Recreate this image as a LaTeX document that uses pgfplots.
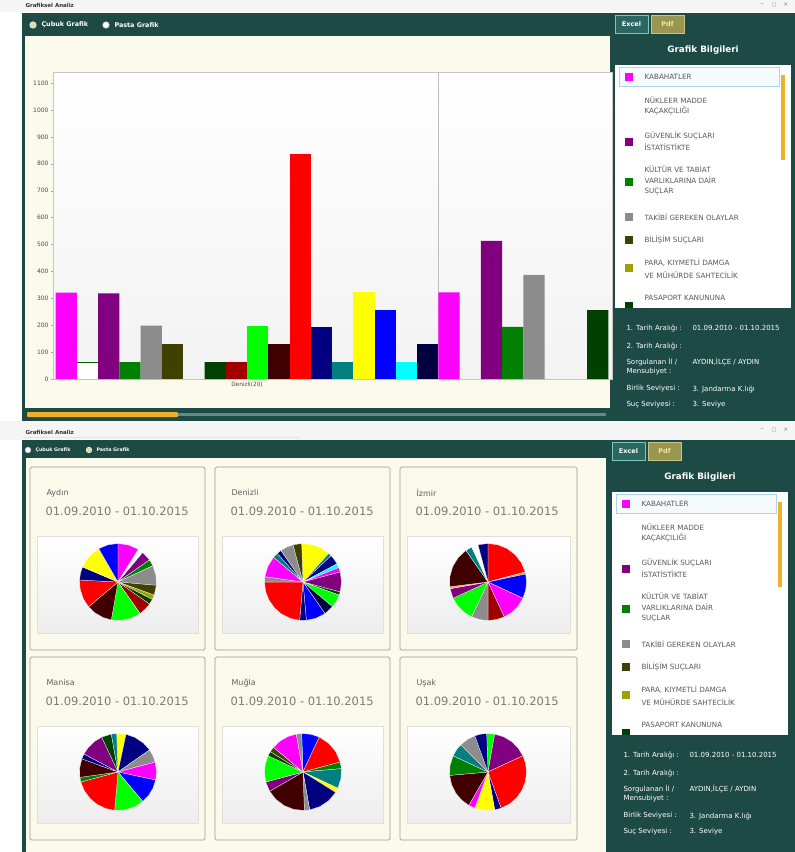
\documentclass[border=0pt]{standalone}
\usepackage{pgfplots}
\pgfplotsset{compat=1.18}
\usepgfplotslibrary{polar}
\usepackage{fontspec}
\setmainfont{DejaVu Sans}
\newcommand{\fs}[1]{\fontsize{#1}{#1}\selectfont}
\definecolor{teal1}{HTML}{1E4A46}
\definecolor{cream}{HTML}{FCFAEB}
\definecolor{btnteal}{HTML}{2B6660}
\definecolor{btnedge}{HTML}{7EC5BF}
\definecolor{pdfbtn}{HTML}{999650}
\definecolor{pdfedge}{HTML}{C9C58A}
\definecolor{pdftext}{HTML}{F0E6A0}
\definecolor{lblue}{HTML}{A9D5EE}
\definecolor{orange1}{HTML}{F0B02A}
\definecolor{lgtext}{HTML}{5A5A5A}
\definecolor{cardfill}{HTML}{FBF9EA}
\definecolor{cardedge}{HTML}{9D9C92}
\definecolor{nametext}{HTML}{606060}
\definecolor{datetext}{HTML}{7B7B7B}
\definecolor{tracktl}{HTML}{5E8C88}
\definecolor{pmag}{HTML}{FF00FF}
\definecolor{ppur}{HTML}{800080}
\definecolor{pgrn}{HTML}{008000}
\definecolor{pgry}{HTML}{8C8C8C}
\definecolor{pdol}{HTML}{404000}
\definecolor{poly}{HTML}{A0A000}
\definecolor{pdgr}{HTML}{004000}
\definecolor{pdrd}{HTML}{A00000}
\definecolor{plim}{HTML}{00FF00}
\definecolor{pmar}{HTML}{400000}
\definecolor{pred}{HTML}{FF0000}
\definecolor{pnav}{HTML}{000080}
\definecolor{ptea}{HTML}{008080}
\definecolor{pyel}{HTML}{FFFF00}
\definecolor{pblu}{HTML}{0000FF}
\definecolor{pcya}{HTML}{00FFFF}
\definecolor{pnbk}{HTML}{000040}
\definecolor{porg}{HTML}{FFA040}
\pgfplotsset{
  bb/.style={ybar, bar width=1, bar shift=0pt, fill=#1, draw=none},
  sl/.style={fill=#1, draw=white, line width=0.25pt},
  pie/.style={scale only axis, width=77pt, height=77pt, hide axis, ymin=0, ymax=1, clip=false, anchor=center},
}
\tikzset{lg/.style={anchor=west, font=\fs{7.2}, text=lgtext}, inf/.style={anchor=west, font=\fs{7}, text=white}}
\newcommand{\rpanel}{%
  \draw[fill=btnteal, draw=btnedge, line width=0.6pt] (615,15) rectangle (648,33);
  \node[font=\bfseries\fs{6.5}, text=white] at (631.5,24) {Excel};
  \draw[fill=pdfbtn, draw=pdfedge, line width=0.6pt] (651,15) rectangle (684,33);
  \node[font=\bfseries\fs{6.5}, text=pdftext] at (667.5,24) {Pdf};
  \node[font=\bfseries\fs{8.8}, text=white] at (703,50) {Grafik Bilgileri};
  \fill[white] (615,65) rectangle (791,308);
  \draw[lblue, fill=lblue!12] (619,67.5) rectangle (779,86);
  \fill[orange1] (781,75) rectangle (785,160);
  \fill[pmag] (625,73) rectangle (633,81);
  \node[lg] at (641,77) {KABAHATLER};
  \node[lg] at (641,100) {NÜKLEER MADDE};
  \node[lg] at (641,111) {KAÇAKÇILIĞI};
  \fill[ppur] (625,138) rectangle (633,146);
  \node[lg] at (641,136) {GÜVENLİK SUÇLARI};
  \node[lg] at (641,147) {İSTATİSTİKTE};
  \fill[pgrn] (625,178) rectangle (633,186);
  \node[lg] at (641,169) {KÜLTÜR VE TABİAT};
  \node[lg] at (641,180) {VARLIKLARINA DAİR};
  \node[lg] at (641,192) {SUÇLAR};
  \fill[pgry] (625,213) rectangle (633,221);
  \node[lg] at (641,217) {TAKİBİ GEREKEN OLAYLAR};
  \fill[pdol] (625,236) rectangle (633,244);
  \node[lg] at (641,240) {BİLİŞİM SUÇLARI};
  \fill[poly] (625,264) rectangle (633,272);
  \node[lg] at (641,263) {PARA, KIYMETLİ DAMGA};
  \node[lg] at (641,275) {VE MÜHÜRDE SAHTECİLİK};
  \fill[pdgr] (625,302) rectangle (633,308);
  \node[lg] at (641,298) {PASAPORT KANUNUNA};
  \node[inf] at (623,328) {1. Tarih Aralığı :};
  \node[inf] at (689,328) {01.09.2010 - 01.10.2015};
  \node[inf] at (623,346) {2. Tarih Aralığı :};
  \node[inf] at (623,362) {Sorgulanan İl /};
  \node[inf] at (623,372) {Mensubiyet :};
  \node[inf] at (689,362) {AYDIN,İLÇE / AYDIN};
  \node[inf] at (623,389) {Birlik Seviyesi :};
  \node[inf] at (689,389) {3. Jandarma K.lığı};
  \node[inf] at (623,405) {Suç Seviyesi :};
  \node[inf] at (689,405) {3. Seviye};
}
\newcommand{\card}[4]{%
  \draw[cardedge, fill=cardfill, rounded corners=1.5pt, line width=0.7pt] (#1,#2) rectangle ++(#4,183);
  \node[anchor=west, font=\fs{8}, text=nametext] at (#1+13,#2+26) {#3};
  \node[anchor=west, font=\fs{11.5}, text=datetext] at (#1+12,#2+44) {01.09.2010 - 01.10.2015};
  \draw[gray!25, top color=white, bottom color=gray!14] (#1+7,#2+69) rectangle (#1+#4-7,#2+166);
}
\begin{document}
\begin{tikzpicture}
\useasboundingbox (0pt,0pt) rectangle (795pt,-852pt);
\begin{scope}[x=1pt,y=-1pt]
  \fill[white] (0,0) rectangle (795,852);
  % top window
  \fill[gray!8] (0,0) rectangle (795,12);
  \node[anchor=west, font=\bfseries\fs{5.5}, text=gray!40!black] at (22,5) {Grafiksel Analiz};
  \node[font=\fs{6}, text=gray] at (762,5) {–};
  \node[font=\fs{5}, text=gray] at (774,5) {□};
  \node[font=\fs{6}, text=gray] at (786,5) {×};
  \fill[teal1] (22,13) rectangle (795,36);
  \fill[teal1] (610,13) rectangle (795,421);
  \fill[teal1] (22,13) rectangle (25,421);
  \fill[cream] (25,36) rectangle (610,408);
  \fill[teal1] (22,408) rectangle (612,421);
  \fill[tracktl] (28,413) rectangle (606,416);
  \fill[orange1, rounded corners=1pt] (27,412) rectangle (178,417);
  \draw[fill=pyel!40!gray!50, draw=white, line width=0.6pt] (33,25) circle (3.2);
  \node[anchor=west, font=\bfseries\fs{6.4}, text=white] at (38,25) {Çubuk Grafik};
  \draw[fill=white, draw=white!80!teal1, line width=0.6pt] (106,25) circle (3.2);
  \node[anchor=west, font=\bfseries\fs{6.4}, text=white] at (111,25) {Pasta Grafik};
  \rpanel
  % bottom window
  \fill[gray!8] (0,421) rectangle (795,440);
  \fill[red!15] (22,437) rectangle (300,438);
  \node[anchor=west, font=\bfseries\fs{5.5}, text=gray!40!black] at (22,432) {Grafiksel Analiz};
  \node[font=\fs{6}, text=gray] at (762,430) {–};
  \node[font=\fs{5}, text=gray] at (774,430) {□};
  \node[font=\fs{6}, text=gray] at (786,430) {×};
  \fill[teal1] (22,440) rectangle (795,458);
  \fill[teal1] (22,440) rectangle (26,852);
  \fill[teal1] (606,440) rectangle (795,852);
  \fill[cream] (26,458) rectangle (606,852);
  \draw[fill=white, draw=white!80!teal1, line width=0.5pt] (28,450) circle (2.8);
  \node[anchor=west, font=\bfseries\fs{4.8}, text=white] at (32,450) {Çubuk Grafik};
  \draw[fill=pyel!40!gray!50, draw=white, line width=0.5pt] (89,450) circle (2.8);
  \node[anchor=west, font=\bfseries\fs{4.8}, text=white] at (93,450) {Pasta Grafik};
  \begin{scope}[shift={(-3,427)}]
    \rpanel
  \end{scope}
  \card{30}{467}{Aydın}{175}
  \card{215}{467}{Denizli}{175}
  \card{400}{467}{İzmir}{177}
  \card{30}{657}{Manisa}{175}
  \card{215}{657}{Muğla}{175}
  \card{400}{657}{Uşak}{177}
\end{scope}

% bar chart
\begin{axis}[
  at={(53pt,-379pt)}, anchor=south west,
  scale only axis, width=559pt, height=307pt,
  xmin=-0.127, xmax=26.17, ymin=0, ymax=1141,
  axis line style={gray!45},
  axis background/.style={top color=white, bottom color=gray!10},
  ytick={0,100,...,1100},
  ytick pos=left, tick align=outside, major tick length=2pt,
  tick style={gray!70},
  yticklabel style={font=\fs{6}, text=gray!60!black, xshift=1pt},
  xtick={9}, xticklabels={Denizli(20)},
  xtick style={draw=none},
  xticklabel style={font=\fs{5.8}, text=gray!60!black, yshift=2pt},
  extra x ticks={18}, extra x tick labels={},
  extra x tick style={grid=major, major grid style={gray!50}, tick style={draw=none}},
  /pgf/number format/assume math mode=true,
  /pgf/number format/1000 sep={},
]
\addplot[bb=pmag] coordinates {(0.5,321) (18.5,322)};
\addplot[bb=white] coordinates {(1.5,62)};
\addplot[pgrn!70!black, line width=0.6pt] coordinates {(1,62) (2,62)};
\addplot[bb=ppur] coordinates {(2.5,318) (20.5,513)};
\addplot[bb=pgrn] coordinates {(3.5,63) (21.5,194)};
\addplot[bb=pgry] coordinates {(4.5,198) (22.5,387)};
\addplot[bb=pdol] coordinates {(5.5,131)};
\addplot[bb=pdgr] coordinates {(7.5,63) (25.5,256)};
\addplot[bb=pdrd] coordinates {(8.5,63)};
\addplot[bb=plim] coordinates {(9.5,196)};
\addplot[bb=pmar] coordinates {(10.5,129)};
\addplot[bb=pred] coordinates {(11.5,835)};
\addplot[bb=pnav] coordinates {(12.5,194)};
\addplot[bb=ptea] coordinates {(13.5,64)};
\addplot[bb=pyel] coordinates {(14.5,322)};
\addplot[bb=pblu] coordinates {(15.5,256)};
\addplot[bb=pcya] coordinates {(16.5,63)};
\addplot[bb=pnbk] coordinates {(17.5,129)};
\end{axis}

% Aydin
\begin{polaraxis}[pie, at={(118pt,-582pt)}]
\addplot[sl=pmag] coordinates {(0,0) (58,1) (74,1) (90,1)} --cycle;
\addplot[sl=white] coordinates {(0,0) (50,1) (58,1)} --cycle;
\addplot[sl=ppur] coordinates {(0,0) (35,1) (50,1)} --cycle;
\addplot[sl=pgrn] coordinates {(0,0) (25,1) (35,1)} --cycle;
\addplot[sl=pgry] coordinates {(0,0) (-5,1) (10,1) (25,1)} --cycle;
\addplot[sl=pdol] coordinates {(0,0) (-20,1) (-5,1)} --cycle;
\addplot[sl=poly] coordinates {(0,0) (-27,1) (-20,1)} --cycle;
\addplot[sl=pdgr] coordinates {(0,0) (-35,1) (-27,1)} --cycle;
\addplot[sl=pdrd] coordinates {(0,0) (-55,1) (-45,1) (-35,1)} --cycle;
\addplot[sl=plim] coordinates {(0,0) (-100,1) (-85,1) (-70,1) (-55,1)} --cycle;
\addplot[sl=pmar] coordinates {(0,0) (-140,1) (-127,1) (-113,1) (-100,1)} --cycle;
\addplot[sl=pred] coordinates {(0,0) (-183,1) (-169,1) (-154,1) (-140,1)} --cycle;
\addplot[sl=pnav] coordinates {(0,0) (-203,1) (-193,1) (-183,1)} --cycle;
\addplot[sl=pyel] coordinates {(0,0) (-240,1) (-228,1) (-215,1) (-203,1)} --cycle;
\addplot[sl=pblu] coordinates {(0,0) (-270,1) (-255,1) (-240,1)} --cycle;
\end{polaraxis}

% Denizli
\begin{polaraxis}[pie, at={(303pt,-582pt)}]
\addplot[sl=pyel] coordinates {(0,0) (48,1) (63,1) (77,1) (92,1)} --cycle;
\addplot[sl=ptea] coordinates {(0,0) (43,1) (48,1)} --cycle;
\addplot[sl=pnav] coordinates {(0,0) (28,1) (35,1) (43,1)} --cycle;
\addplot[sl=pcya] coordinates {(0,0) (22,1) (28,1)} --cycle;
\addplot[sl=pmag] coordinates {(0,0) (15,1) (22,1)} --cycle;
\addplot[sl=ppur] coordinates {(0,0) (-15,1) (0,1) (15,1)} --cycle;
\addplot[sl=pdgr] coordinates {(0,0) (-20,1) (-15,1)} --cycle;
\addplot[sl=plim] coordinates {(0,0) (-40,1) (-30,1) (-20,1)} --cycle;
\addplot[sl=pnbk] coordinates {(0,0) (-55,1) (-40,1)} --cycle;
\addplot[sl=pblu] coordinates {(0,0) (-85,1) (-70,1) (-55,1)} --cycle;
\addplot[sl=pnav] coordinates {(0,0) (-95,1) (-85,1)} --cycle;
\addplot[sl=pred] coordinates {(0,0) (-180,1) (-166,1) (-152,1) (-138,1) (-124,1) (-109,1) (-95,1)} --cycle;
\addplot[sl=pgry] coordinates {(0,0) (-188,1) (-180,1)} --cycle;
\addplot[sl=pmag] coordinates {(0,0) (-220,1) (-204,1) (-188,1)} --cycle;
\addplot[sl=ptea] coordinates {(0,0) (-228,1) (-220,1)} --cycle;
\addplot[sl=pnav] coordinates {(0,0) (-235,1) (-228,1)} --cycle;
\addplot[sl=pgry] coordinates {(0,0) (-255,1) (-245,1) (-235,1)} --cycle;
\addplot[sl=pdol] coordinates {(0,0) (-268,1) (-255,1)} --cycle;
\end{polaraxis}

% Izmir
\begin{polaraxis}[pie, at={(488pt,-582pt)}]
\addplot[sl=pred] coordinates {(0,0) (15,1) (30,1) (45,1) (60,1) (75,1) (90,1)} --cycle;
\addplot[sl=porg] coordinates {(0,0) (12,1) (15,1)} --cycle;
\addplot[sl=pblu] coordinates {(0,0) (-25,1) (-12,1) (0,1) (12,1)} --cycle;
\addplot[sl=pmag] coordinates {(0,0) (-65,1) (-52,1) (-38,1) (-25,1)} --cycle;
\addplot[sl=pdrd] coordinates {(0,0) (-90,1) (-77,1) (-65,1)} --cycle;
\addplot[sl=pgry] coordinates {(0,0) (-115,1) (-102,1) (-90,1)} --cycle;
\addplot[sl=plim] coordinates {(0,0) (-155,1) (-142,1) (-128,1) (-115,1)} --cycle;
\addplot[sl=ppur] coordinates {(0,0) (-170,1) (-155,1)} --cycle;
\addplot[sl=porg] coordinates {(0,0) (-173,1) (-170,1)} --cycle;
\addplot[sl=pmar] coordinates {(0,0) (-235,1) (-220,1) (-204,1) (-188,1) (-173,1)} --cycle;
\addplot[sl=ptea] coordinates {(0,0) (-245,1) (-235,1)} --cycle;
\addplot[sl=white] coordinates {(0,0) (-255,1) (-245,1)} --cycle;
\addplot[sl=pnav] coordinates {(0,0) (-270,1) (-255,1)} --cycle;
\end{polaraxis}

% Manisa
\begin{polaraxis}[pie, at={(118pt,-772pt)}]
\addplot[sl=pyel] coordinates {(0,0) (78,1) (92,1)} --cycle;
\addplot[sl=pnav] coordinates {(0,0) (35,1) (49,1) (64,1) (78,1)} --cycle;
\addplot[sl=pgry] coordinates {(0,0) (15,1) (25,1) (35,1)} --cycle;
\addplot[sl=pmag] coordinates {(0,0) (-12,1) (0,1) (15,1)} --cycle;
\addplot[sl=pblu] coordinates {(0,0) (-50,1) (-37,1) (-25,1) (-12,1)} --cycle;
\addplot[sl=plim] coordinates {(0,0) (-95,1) (-80,1) (-65,1) (-50,1)} --cycle;
\addplot[sl=pred] coordinates {(0,0) (-165,1) (-151,1) (-137,1) (-123,1) (-109,1) (-95,1)} --cycle;
\addplot[sl=pgrn] coordinates {(0,0) (-172,1) (-165,1)} --cycle;
\addplot[sl=pmar] coordinates {(0,0) (-200,1) (-186,1) (-172,1)} --cycle;
\addplot[sl=pnav] coordinates {(0,0) (-208,1) (-200,1)} --cycle;
\addplot[sl=ppur] coordinates {(0,0) (-245,1) (-233,1) (-220,1) (-208,1)} --cycle;
\addplot[sl=pdgr] coordinates {(0,0) (-260,1) (-245,1)} --cycle;
\addplot[sl=ptea] coordinates {(0,0) (-268,1) (-260,1)} --cycle;
\end{polaraxis}

% Mugla
\begin{polaraxis}[pie, at={(303pt,-772pt)}]
\addplot[sl=pblu] coordinates {(0,0) (65,1) (78,1) (92,1)} --cycle;
\addplot[sl=pred] coordinates {(0,0) (15,1) (32,1) (48,1) (65,1)} --cycle;
\addplot[sl=pgrn] coordinates {(0,0) (5,1) (15,1)} --cycle;
\addplot[sl=ptea] coordinates {(0,0) (-25,1) (-10,1) (5,1)} --cycle;
\addplot[sl=pyel] coordinates {(0,0) (-32,1) (-25,1)} --cycle;
\addplot[sl=pnav] coordinates {(0,0) (-80,1) (-64,1) (-48,1) (-32,1)} --cycle;
\addplot[sl=pgry] coordinates {(0,0) (-88,1) (-80,1)} --cycle;
\addplot[sl=pmar] coordinates {(0,0) (-150,1) (-135,1) (-119,1) (-104,1) (-88,1)} --cycle;
\addplot[sl=ppur] coordinates {(0,0) (-165,1) (-150,1)} --cycle;
\addplot[sl=plim] coordinates {(0,0) (-205,1) (-192,1) (-178,1) (-165,1)} --cycle;
\addplot[sl=pdgr] coordinates {(0,0) (-212,1) (-205,1)} --cycle;
\addplot[sl=pdol] coordinates {(0,0) (-220,1) (-212,1)} --cycle;
\addplot[sl=pmag] coordinates {(0,0) (-260,1) (-247,1) (-233,1) (-220,1)} --cycle;
\addplot[sl=pgry] coordinates {(0,0) (-268,1) (-260,1)} --cycle;
\end{polaraxis}

% Usak
\begin{polaraxis}[pie, at={(488pt,-772pt)}]
\addplot[sl=plim] coordinates {(0,0) (80,1) (92,1)} --cycle;
\addplot[sl=ppur] coordinates {(0,0) (25,1) (39,1) (52,1) (66,1) (80,1)} --cycle;
\addplot[sl=pred] coordinates {(0,0) (-70,1) (-56,1) (-42,1) (-28,1) (-14,1) (0,1) (13,1) (25,1)} --cycle;
\addplot[sl=pnav] coordinates {(0,0) (-80,1) (-70,1)} --cycle;
\addplot[sl=pyel] coordinates {(0,0) (-110,1) (-95,1) (-80,1)} --cycle;
\addplot[sl=pmag] coordinates {(0,0) (-120,1) (-110,1)} --cycle;
\addplot[sl=pmar] coordinates {(0,0) (-175,1) (-161,1) (-147,1) (-134,1) (-120,1)} --cycle;
\addplot[sl=pgrn] coordinates {(0,0) (-205,1) (-190,1) (-175,1)} --cycle;
\addplot[sl=ptea] coordinates {(0,0) (-225,1) (-215,1) (-205,1)} --cycle;
\addplot[sl=pgry] coordinates {(0,0) (-250,1) (-238,1) (-225,1)} --cycle;
\addplot[sl=pnav] coordinates {(0,0) (-268,1) (-259,1) (-250,1)} --cycle;
\end{polaraxis}
\end{tikzpicture}
\end{document}
